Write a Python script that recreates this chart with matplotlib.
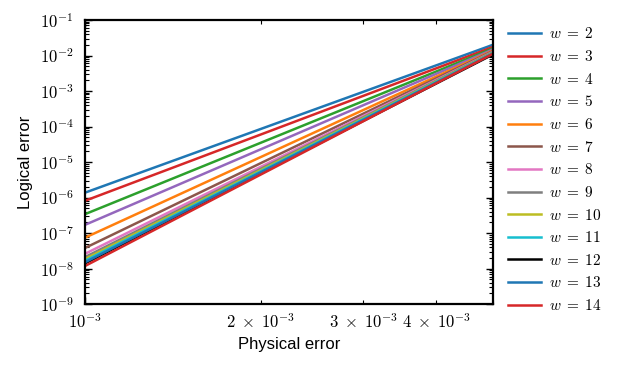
import numpy as np
import matplotlib
matplotlib.use("Agg")
import matplotlib.pyplot as plt
from matplotlib.ticker import FuncFormatter, NullFormatter

# physical error rates at the two ends of the sweep
p_phys = [1e-3, 5e-3]

distances = [2, 3, 4, 5, 6, 7, 8, 9, 10, 11, 12, 13, 14]
# logical error at p = 1e-3 and p = 5e-3
err_low = [1.37e-6, 8.1e-7, 3.4e-7, 1.7e-7, 7.4e-8, 3.8e-8, 2.6e-8,
           2.1e-8, 1.85e-8, 1.65e-8, 1.4e-8, 1.5e-8, 1.18e-8]
err_high = [2.0e-2, 1.74e-2, 1.58e-2, 1.48e-2, 1.38e-2, 1.33e-2, 1.27e-2,
            1.24e-2, 1.2e-2, 1.17e-2, 1.07e-2, 1.14e-2, 1.12e-2]

colors = ['C0', 'C3', 'C2', 'C4', 'C1', 'C5', 'C6', 'C7', 'C8', 'C9', 'k']

plt.rcParams['mathtext.fontset'] = 'cm'
plt.rcParams['font.family'] = 'Liberation Sans'


def sci_label(v, pos=None):
    e = int(np.floor(np.log10(v) + 1e-9))
    m = v / 10.0 ** e
    if abs(m - 1) < 1e-6:
        return r"$10^{%d}$" % e
    m = int(round(m))
    if m in (2, 3, 4):
        return r"$%d\;\times\;10^{%d}$" % (m, e)
    return ""


fig = plt.figure(figsize=(6.24, 3.70), dpi=100)
ax = fig.add_axes([0.136, 0.178, 0.654, 0.768])

for i, w in enumerate(distances):
    ax.loglog(p_phys, [err_low[i], err_high[i]], color=colors[i % len(colors)],
              lw=1.8, label=r"$w\;=\;%d$" % w)

ax.set_xlim(1e-3, 5e-3)
ax.set_ylim(1e-9, 1e-1)
ax.xaxis.set_major_formatter(FuncFormatter(sci_label))
ax.xaxis.set_minor_formatter(FuncFormatter(sci_label))
ax.yaxis.set_major_formatter(FuncFormatter(sci_label))
ax.yaxis.set_minor_formatter(NullFormatter())
ax.set_xlabel("Physical error", fontsize=12)
ax.set_ylabel("Logical error", fontsize=12, labelpad=5)
ax.tick_params(which='both', direction='in', top=True, right=True, labelsize=12)
ax.tick_params(which='major', length=5, width=1)
ax.tick_params(which='minor', length=3, width=0.8)
ax.tick_params(axis='x', which='both', pad=6)
ax.tick_params(axis='y', which='both', pad=8)
for s in ax.spines.values():
    s.set_linewidth(1.6)

ax.legend(loc='upper left', bbox_to_anchor=(1.01, 1.015), frameon=False,
          fontsize=11, handlelength=2.2, handletextpad=0.5,
          labelspacing=0.5, borderaxespad=0.3)

fig.savefig("out.png", dpi=100)
